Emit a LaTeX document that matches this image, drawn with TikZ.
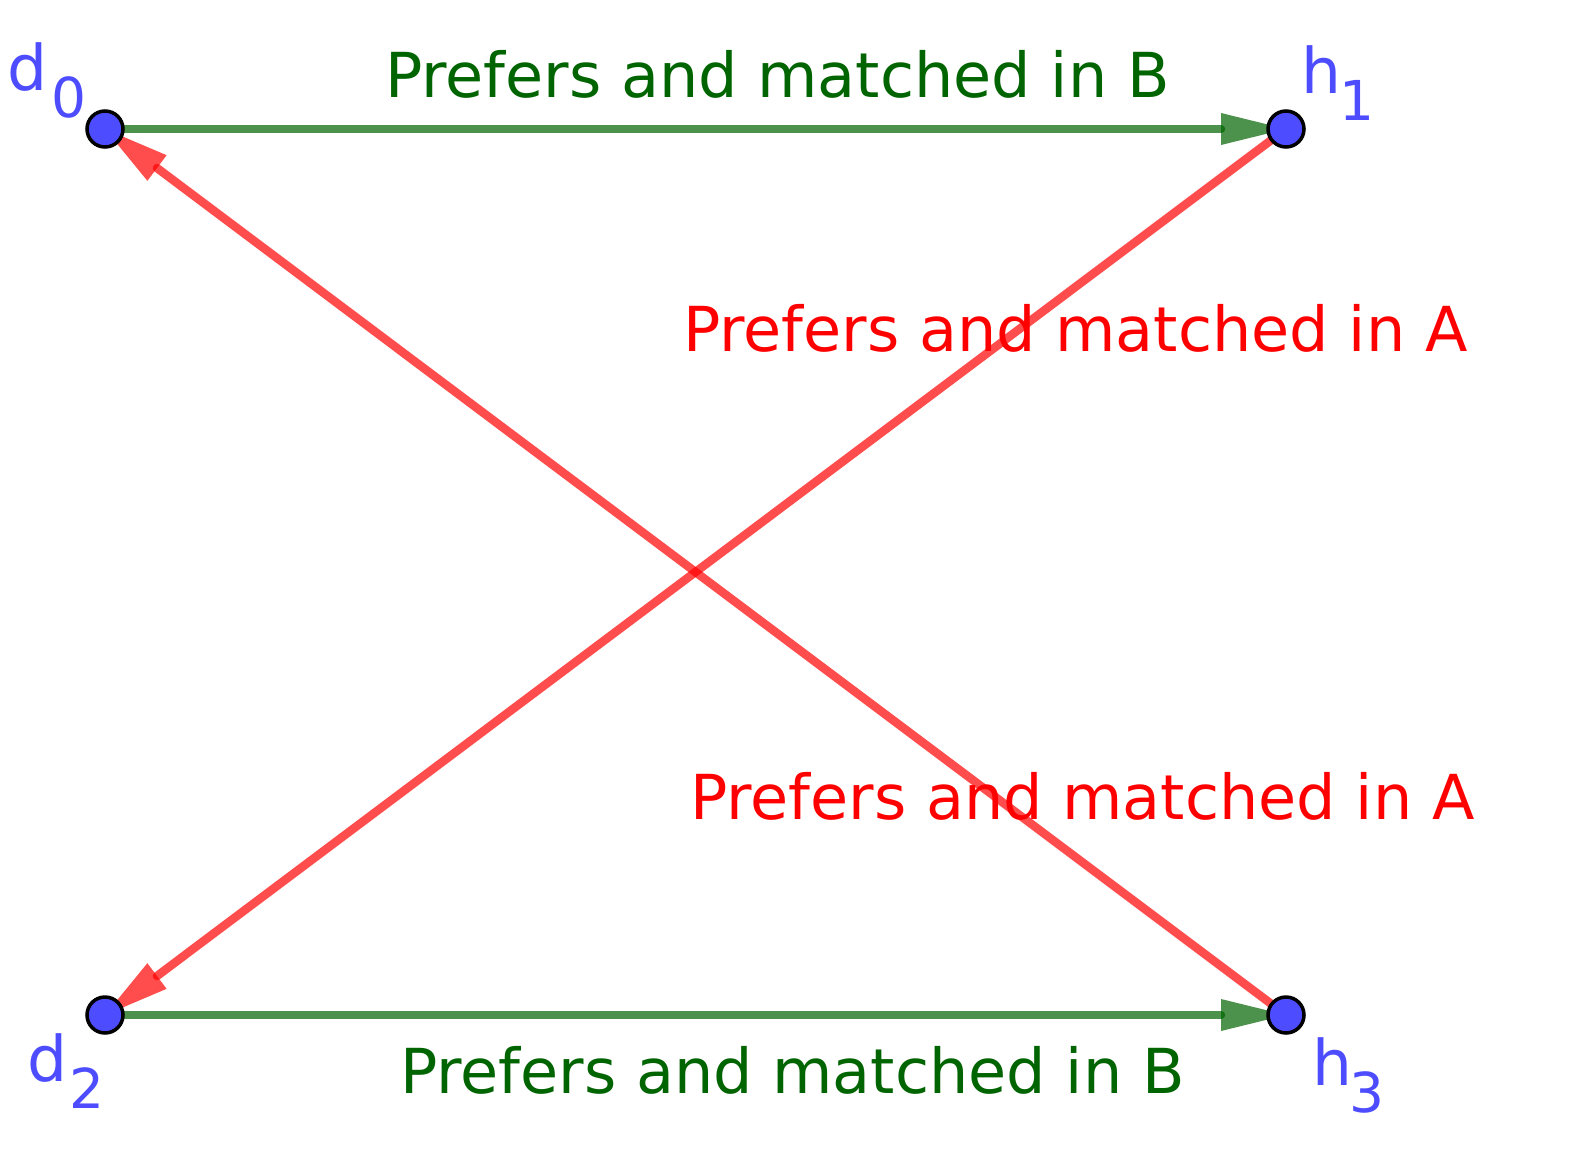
\documentclass[tikz,border=0pt]{standalone}
\usepackage{fontspec}
\setmainfont{DejaVu Sans}
\usetikzlibrary{calc}
\definecolor{ptblue}{RGB}{77,77,255}
\definecolor{dgreen}{RGB}{0,100,0}
\definecolor{lred}{RGB}{255,0,0}
\tikzset{
  pt/.style={circle,draw=black,line width=3.5pt,fill=ptblue,minimum size=36pt,inner sep=0pt},
  lbl/.style={text=ptblue,anchor=base west,inner sep=0pt,font=\fontsize{63}{63}\selectfont},
  etxt/.style={anchor=base west,inner sep=0pt,font=\fontsize{62}{62}\selectfont},
  gline/.style={draw=dgreen,line width=8.5pt,line cap=round,opacity=0.7},
  rline/.style={draw=lred,line width=8.5pt,line cap=round,opacity=0.7},
  gfill/.style={fill=dgreen,opacity=0.7},
  rfill/.style={fill=lred,opacity=0.7}
}
\newcommand{\subs}[2]{\hspace{#1}\raisebox{-27pt}{\fontsize{55}{55}\selectfont #2}}
\begin{document}
\begin{tikzpicture}[x=1pt,y=-1pt]
\useasboundingbox[fill=white] (0,0) rectangle (1587,1170);
\coordinate (d0) at (105,129);
\coordinate (h1) at (1286,129);
\coordinate (d2) at (105,1015);
\coordinate (h3) at (1286,1015);
% connectors
\draw[gline] (d0) -- ($(h1)!65pt!(d0)$);
\fill[gfill] (h1) -- ($($(h1)!65pt!(d0)$)!16pt!90:(h1)$) -- ($($(h1)!65pt!(d0)$)!16pt!-90:(h1)$) -- cycle;
\draw[gline] (d2) -- ($(h3)!65pt!(d2)$);
\fill[gfill] (h3) -- ($($(h3)!65pt!(d2)$)!16pt!90:(h3)$) -- ($($(h3)!65pt!(d2)$)!16pt!-90:(h3)$) -- cycle;
\draw[rline] (h1) -- ($(d2)!65pt!(h1)$);
\fill[rfill] (d2) -- ($($(d2)!65pt!(h1)$)!16pt!90:(d2)$) -- ($($(d2)!65pt!(h1)$)!16pt!-90:(d2)$) -- cycle;
\draw[rline] (h3) -- ($(d0)!65pt!(h3)$);
\fill[rfill] (d0) -- ($($(d0)!65pt!(h3)$)!16pt!90:(d0)$) -- ($($(d0)!65pt!(h3)$)!16pt!-90:(d0)$) -- cycle;
% points
\node[pt] (nd0) at (d0) {};
\node[pt] (nh1) at (h1) {};
\node[pt] (nd2) at (d2) {};
\node[pt] (nh3) at (h3) {};
% point labels
\node[lbl] (ld0) at (7,90) {d\subs{4pt}{0}};
\node[lbl] (lh1) at (1301,93) {h\subs{-2pt}{1}};
\node[lbl] (ld2) at (27,1081) {d\subs{2pt}{2}};
\node[lbl] (lh3) at (1312,1085) {h\subs{-3pt}{3}};
% edge labels
\node[etxt,text=dgreen] (t1) at (385,97) {Prefers and matched in B};
\node[etxt,text=lred] (t2) at (683,351) {Prefers and matched in A};
\node[etxt,text=lred] (t3) at (690,819) {Prefers and matched in A};
\node[etxt,text=dgreen] (t4) at (400,1093) {Prefers and matched in B};
\end{tikzpicture}
\end{document}
